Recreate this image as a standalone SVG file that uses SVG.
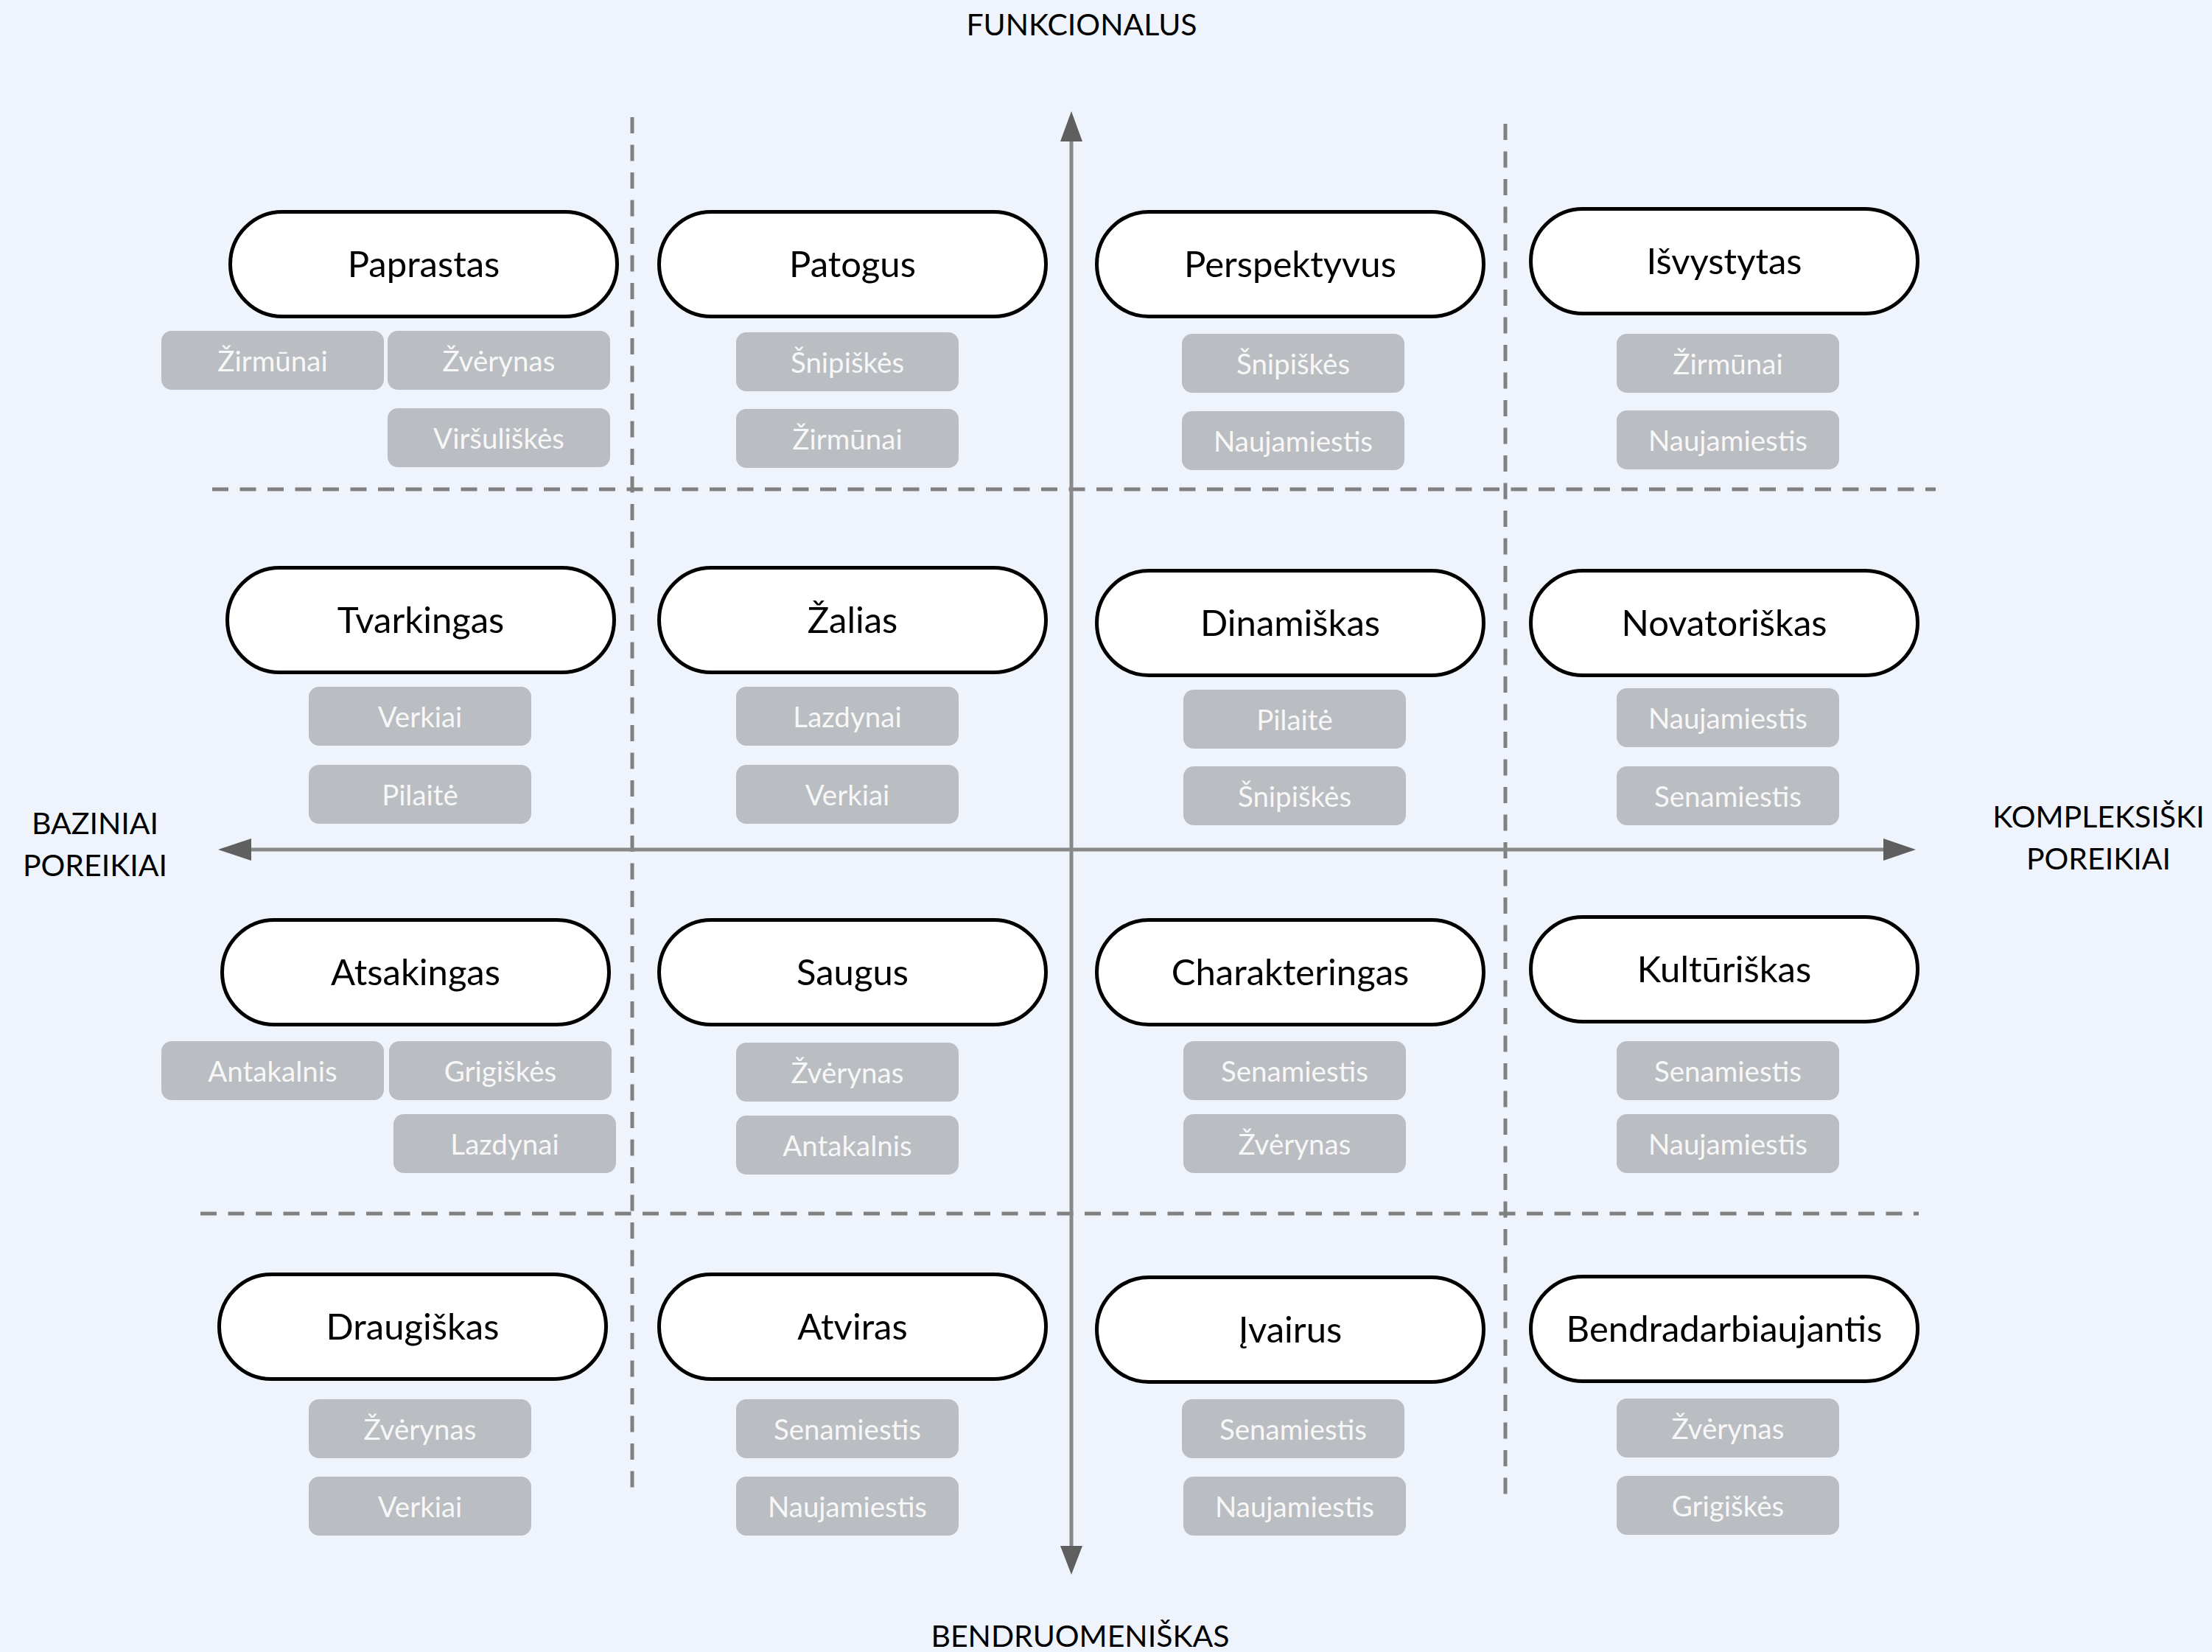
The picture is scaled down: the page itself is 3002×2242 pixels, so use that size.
<svg xmlns="http://www.w3.org/2000/svg" width="3002" height="2242" viewBox="0 0 3002 2242">
<defs>
<style>
.pill{fill:#ffffff;stroke:#000000;stroke-width:5}
.pt{font-family:Lato,"Liberation Sans",sans-serif;font-size:49px;fill:#000000;text-anchor:middle}
.tag{fill:#babdc2}
.tt{font-family:Lato,"Liberation Sans",sans-serif;font-size:38.5px;fill:#f7f7f7;text-anchor:middle}
.ax{font-family:Lato,"Liberation Sans",sans-serif;font-size:41px;fill:#000000;text-anchor:middle}
.dash{stroke:#808080;stroke-width:5;stroke-dasharray:22 15.5;fill:none}
.axis{stroke:#888888;stroke-width:5;fill:none}
.head{fill:#5f5f5f}
</style>
</defs>
<rect width="3002" height="2242" fill="#eff3fb"/>

<g id="grid">
<line class="dash" x1="858" y1="159" x2="858" y2="2029"/>
<line class="dash" x1="2043" y1="168" x2="2043" y2="2040"/>
<line class="dash" x1="288" y1="664" x2="2627" y2="664"/>
<line class="dash" x1="272" y1="1647" x2="2604" y2="1647"/>
</g>

<g id="connectors">
<line class="axis" x1="1454" y1="190" x2="1454" y2="2100"/>
<polygon class="head" points="1454,151 1439,192 1469,192"/>
<polygon class="head" points="1454,2137 1439,2098 1469,2098"/>
<line class="axis" x1="339" y1="1153" x2="2559" y2="1153"/>
<polygon class="head" points="296,1153 341,1138 341,1168"/>
<polygon class="head" points="2600,1153 2556,1138 2556,1168"/>
</g>

<g id="axis-labels">
<text class="ax" x="1468" y="48">FUNKCIONALUS</text>
<text class="ax" x="1466" y="2235">BENDRUOMENIŠKAS</text>
<text class="ax" x="129" y="1132">BAZINIAI</text>
<text class="ax" x="129" y="1189">POREIKIAI</text>
<text class="ax" x="2848" y="1123">KOMPLEKSIŠKI</text>
<text class="ax" x="2848" y="1180">POREIKIAI</text>
</g>

<!-- Row 1 -->
<g id="n-paprastas">
<rect class="pill" x="312.5" y="287.5" width="525" height="142" rx="71"/>
<text class="pt" x="575" y="376">Paprastas</text>
<rect class="tag" x="219" y="449" width="302" height="80" rx="14"/><text class="tt" x="370" y="504">Žirmūnai</text>
<rect class="tag" x="526" y="449" width="302" height="80" rx="14"/><text class="tt" x="677" y="504">Žvėrynas</text>
<rect class="tag" x="526" y="554" width="302" height="80" rx="14"/><text class="tt" x="677" y="609">Viršuliškės</text>
</g>
<g id="n-patogus">
<rect class="pill" x="894.5" y="287.5" width="525" height="142" rx="71"/>
<text class="pt" x="1157" y="376">Patogus</text>
<rect class="tag" x="999" y="451" width="302" height="80" rx="14"/><text class="tt" x="1150" y="506">Šnipiškės</text>
<rect class="tag" x="999" y="555" width="302" height="80" rx="14"/><text class="tt" x="1150" y="610">Žirmūnai</text>
</g>
<g id="n-perspektyvus">
<rect class="pill" x="1488.5" y="287.5" width="525" height="142" rx="71"/>
<text class="pt" x="1751" y="376">Perspektyvus</text>
<rect class="tag" x="1604" y="453" width="302" height="80" rx="14"/><text class="tt" x="1755" y="508">Šnipiškės</text>
<rect class="tag" x="1604" y="558" width="302" height="80" rx="14"/><text class="tt" x="1755" y="613">Naujamiestis</text>
</g>
<g id="n-isvystytas">
<rect class="pill" x="2077.5" y="283.5" width="525" height="142" rx="71"/>
<text class="pt" x="2340" y="372">Išvystytas</text>
<rect class="tag" x="2194" y="453" width="302" height="80" rx="14"/><text class="tt" x="2345" y="508">Žirmūnai</text>
<rect class="tag" x="2194" y="557" width="302" height="80" rx="14"/><text class="tt" x="2345" y="612">Naujamiestis</text>
</g>

<!-- Row 2 -->
<g id="n-tvarkingas">
<rect class="pill" x="308.5" y="770.5" width="525" height="142" rx="71"/>
<text class="pt" x="571" y="859">Tvarkingas</text>
<rect class="tag" x="419" y="932" width="302" height="80" rx="14"/><text class="tt" x="570" y="987">Verkiai</text>
<rect class="tag" x="419" y="1038" width="302" height="80" rx="14"/><text class="tt" x="570" y="1093">Pilaitė</text>
</g>
<g id="n-zalias">
<rect class="pill" x="894.5" y="770.5" width="525" height="142" rx="71"/>
<text class="pt" x="1157" y="859">Žalias</text>
<rect class="tag" x="999" y="932" width="302" height="80" rx="14"/><text class="tt" x="1150" y="987">Lazdynai</text>
<rect class="tag" x="999" y="1038" width="302" height="80" rx="14"/><text class="tt" x="1150" y="1093">Verkiai</text>
</g>
<g id="n-dinamiskas">
<rect class="pill" x="1488.5" y="774.5" width="525" height="142" rx="71"/>
<text class="pt" x="1751" y="863">Dinamiškas</text>
<rect class="tag" x="1606" y="936" width="302" height="80" rx="14"/><text class="tt" x="1757" y="991">Pilaitė</text>
<rect class="tag" x="1606" y="1040" width="302" height="80" rx="14"/><text class="tt" x="1757" y="1095">Šnipiškės</text>
</g>
<g id="n-novatoriskas">
<rect class="pill" x="2077.5" y="774.5" width="525" height="142" rx="71"/>
<text class="pt" x="2340" y="863">Novatoriškas</text>
<rect class="tag" x="2194" y="934" width="302" height="80" rx="14"/><text class="tt" x="2345" y="989">Naujamiestis</text>
<rect class="tag" x="2194" y="1040" width="302" height="80" rx="14"/><text class="tt" x="2345" y="1095">Senamiestis</text>
</g>

<!-- Row 3 -->
<g id="n-atsakingas">
<rect class="pill" x="301.5" y="1248.5" width="525" height="142" rx="71"/>
<text class="pt" x="564" y="1337">Atsakingas</text>
<rect class="tag" x="219" y="1413" width="302" height="80" rx="14"/><text class="tt" x="370" y="1468">Antakalnis</text>
<rect class="tag" x="528" y="1413" width="302" height="80" rx="14"/><text class="tt" x="679" y="1468">Grigiškės</text>
<rect class="tag" x="534" y="1512" width="302" height="80" rx="14"/><text class="tt" x="685" y="1567">Lazdynai</text>
</g>
<g id="n-saugus">
<rect class="pill" x="894.5" y="1248.5" width="525" height="142" rx="71"/>
<text class="pt" x="1157" y="1337">Saugus</text>
<rect class="tag" x="999" y="1415" width="302" height="80" rx="14"/><text class="tt" x="1150" y="1470">Žvėrynas</text>
<rect class="tag" x="999" y="1514" width="302" height="80" rx="14"/><text class="tt" x="1150" y="1569">Antakalnis</text>
</g>
<g id="n-charakteringas">
<rect class="pill" x="1488.5" y="1248.5" width="525" height="142" rx="71"/>
<text class="pt" x="1751" y="1337">Charakteringas</text>
<rect class="tag" x="1606" y="1413" width="302" height="80" rx="14"/><text class="tt" x="1757" y="1468">Senamiestis</text>
<rect class="tag" x="1606" y="1512" width="302" height="80" rx="14"/><text class="tt" x="1757" y="1567">Žvėrynas</text>
</g>
<g id="n-kulturiskas">
<rect class="pill" x="2077.5" y="1244.5" width="525" height="142" rx="71"/>
<text class="pt" x="2340" y="1333">Kultūriškas</text>
<rect class="tag" x="2194" y="1413" width="302" height="80" rx="14"/><text class="tt" x="2345" y="1468">Senamiestis</text>
<rect class="tag" x="2194" y="1512" width="302" height="80" rx="14"/><text class="tt" x="2345" y="1567">Naujamiestis</text>
</g>

<!-- Row 4 -->
<g id="n-draugiskas">
<rect class="pill" x="297.5" y="1729.5" width="525" height="142" rx="71"/>
<text class="pt" x="560" y="1818">Draugiškas</text>
<rect class="tag" x="419" y="1899" width="302" height="80" rx="14"/><text class="tt" x="570" y="1954">Žvėrynas</text>
<rect class="tag" x="419" y="2004" width="302" height="80" rx="14"/><text class="tt" x="570" y="2059">Verkiai</text>
</g>
<g id="n-atviras">
<rect class="pill" x="894.5" y="1729.5" width="525" height="142" rx="71"/>
<text class="pt" x="1157" y="1818">Atviras</text>
<rect class="tag" x="999" y="1899" width="302" height="80" rx="14"/><text class="tt" x="1150" y="1954">Senamiestis</text>
<rect class="tag" x="999" y="2004" width="302" height="80" rx="14"/><text class="tt" x="1150" y="2059">Naujamiestis</text>
</g>
<g id="n-ivairus">
<rect class="pill" x="1488.5" y="1733.5" width="525" height="142" rx="71"/>
<text class="pt" x="1751" y="1822">Įvairus</text>
<rect class="tag" x="1604" y="1899" width="302" height="80" rx="14"/><text class="tt" x="1755" y="1954">Senamiestis</text>
<rect class="tag" x="1606" y="2004" width="302" height="80" rx="14"/><text class="tt" x="1757" y="2059">Naujamiestis</text>
</g>
<g id="n-bendradarbiaujantis">
<rect class="pill" x="2077.5" y="1732.5" width="525" height="142" rx="71"/>
<text class="pt" x="2340" y="1821">Bendradarbiaujantis</text>
<rect class="tag" x="2194" y="1898" width="302" height="80" rx="14"/><text class="tt" x="2345" y="1953">Žvėrynas</text>
<rect class="tag" x="2194" y="2003" width="302" height="80" rx="14"/><text class="tt" x="2345" y="2058">Grigiškės</text>
</g>
</svg>
